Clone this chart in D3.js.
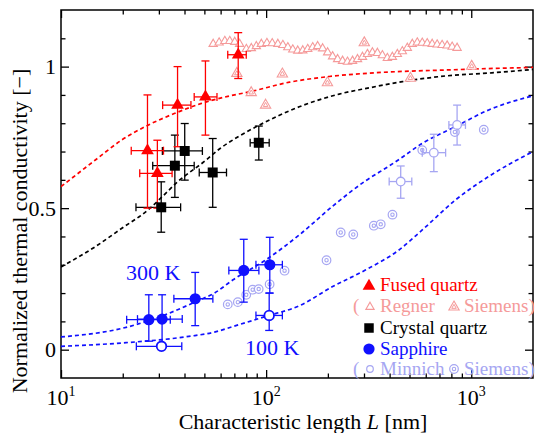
<!DOCTYPE html>
<html>
<head>
<meta charset="utf-8">
<script src="https://cdn.jsdelivr.net/npm/d3@7"></script>
<style>
  body { margin: 0; background: #fff; }
</style>
</head>
<body>
<svg id="chart" width="535" height="433" font-family="'Liberation Serif', 'DejaVu Serif', serif"></svg>
<script>
// data (L in nm, normalized conductivity)
const fusedL = [26.4, 29.5, 37.0, 50.6, 73.1];
const fusedV = [0.703, 0.623, 0.864, 0.893, 1.042];
const fusedVLo = [0.50, 0.50, 0.717, 0.758, 0.958];
const fusedVHi = [0.90, 0.74, 1.00, 1.02, 1.12];
const fusedLLo = [22.0, 24.2, 31.3, 44.6, 65.0];
const fusedLHi = [31.6, 34.8, 43.0, 57.6, 80.0];

const crystalL = [30.8, 35.9, 40.1, 54.9, 92.1];
const crystalV = [0.503, 0.650, 0.702, 0.626, 0.731];
const crystalVLo = [0.415, 0.538, 0.599, 0.503, 0.67];
const crystalVHi = [0.593, 0.758, 0.799, 0.746, 0.79];
const crystalLLo = [23.2, 28.0, 31.2, 47.2, 83.6];
const crystalLHi = [38.3, 44.6, 48.9, 64.1, 103.5];

const sapph300L = [26.8, 31.1, 45.1, 77.8, 104.2];
const sapph300V = [0.106, 0.108, 0.180, 0.280, 0.300];
const sapph300VLo = [0.03, 0.018, 0.085, 0.168, 0.20];
const sapph300VHi = [0.194, 0.194, 0.273, 0.390, 0.397];
const sapph300LLo = [20.9, 23.6, 35.5, 65.8, 89.2];
const sapph300LHi = [34.1, 39.0, 55.0, 92.2, 120];

const sapph100L = [30.9, 103.5];
const sapph100V = [0.012, 0.121];
const sapph100VLo = [0.005, 0.068];
const sapph100VHi = [0.02, 0.20];
const sapph100LLo = [23.3, 89.2];
const sapph100LHi = [38.8, 120];

const minnichL = [453, 657, 853];
const minnichV = [0.594, 0.696, 0.794];
const minnichVLo = [0.535, 0.629, 0.723];
const minnichVHi = [0.649, 0.761, 0.864];
const minnichLLo = [398, 577, 778];
const minnichLHi = [513, 750, 937];

const siemensSapphL = [65, 72.8, 80, 86, 92, 104, 123, 197, 231, 266, 335, 362, 413, 577, 832, 1151];
const siemensSapphV = [0.160, 0.168, 0.194, 0.212, 0.214, 0.231, 0.279, 0.316, 0.414, 0.407, 0.438, 0.443, 0.477, 0.705, 0.769, 0.777];

const regnerL = [55.2, 59.0, 62.9, 66.5, 70.3, 74.3, 80.1, 84.7, 89.6, 94.8, 100.9, 107.1, 114.1, 120.7,
  127.6, 134.9, 142.6, 150.9, 159.5, 168.7, 178.3, 188.6, 199.5, 210.9, 223.1, 235.8, 249.3, 263.8,
  279.0, 295.0, 311.9, 329.8, 348.8, 368.8, 390, 412.6, 436.3, 461.4, 487.8, 516, 545.7, 576.9,
  610, 645, 682, 721, 763, 807, 853];
const regnerV = [1.080, 1.085, 1.090, 1.090, 1.087, 1.080, 1.062, 1.065, 1.072, 1.080, 1.083, 1.082, 1.080, 1.076,
  1.068, 1.060, 1.056, 1.057, 1.062, 1.068, 1.072, 1.064, 1.050, 1.036, 1.026, 1.020, 1.017, 1.020,
  1.026, 1.034, 1.044, 1.050, 1.048, 1.040, 1.030, 1.034, 1.044, 1.054, 1.066, 1.080, 1.085, 1.084,
  1.082, 1.080, 1.078, 1.076, 1.074, 1.070, 1.066];

const siemensFusedL = [72, 84.6, 99.4, 120, 199, 301, 505, 1005];
const siemensFusedV = [0.976, 0.908, 0.864, 0.974, 0.943, 1.084, 0.959, 1.001];

// dashed model curves
const redCurveL = [10, 14.7, 19.8, 26.7, 35.9, 48.4, 65, 83.2, 130, 203, 318, 500, 750, 1200, 2000];
const redCurveV = [0.576, 0.670, 0.741, 0.794, 0.835, 0.870, 0.895, 0.911, 0.945, 0.965, 0.977, 0.984, 0.988, 0.993, 0.997];

const blackCurveL = [10, 14.7, 19.8, 26.7, 30.8, 37.3, 50, 59.4, 73, 93, 145, 227, 318, 462, 750, 1260, 2000];
const blackCurveV = [0.292, 0.364, 0.429, 0.495, 0.537, 0.595, 0.665, 0.71, 0.752, 0.794, 0.858, 0.903, 0.925, 0.947, 0.967, 0.978, 0.990];

const blue300CurveL = [10, 20, 27.7, 47.5, 56, 69, 100, 146, 211, 306, 400, 453, 577, 838, 1217, 2000];
const blue300CurveV = [0.045, 0.076, 0.106, 0.176, 0.20, 0.247, 0.318, 0.407, 0.507, 0.597, 0.65, 0.676, 0.729, 0.788, 0.847, 0.897];

const blue100CurveL = [10, 20, 42, 56, 69, 100, 146, 211, 306, 440, 577, 838, 1217, 2000];
const blue100CurveV = [0.012, 0.024, 0.047, 0.062, 0.082, 0.118, 0.156, 0.223, 0.282, 0.35, 0.423, 0.529, 0.612, 0.70];

// ticks
const xMajor = [10, 100, 1000];
const xMajorExp = ["1", "2", "3"];
const xMinor = [20, 30, 40, 50, 60, 70, 80, 90, 200, 300, 400, 500, 600, 700, 800, 900];
const yMajor = [0, 0.5, 1];
const yMajorLabels = ["0", "0.5", "1"];
const yMinor = [0.1, 0.2, 0.3, 0.4, 0.6, 0.7, 0.8, 0.9, 1.1];

const RED = "#ff0000";
const PINK = "#f59a9a";
const BLUE = "#1010ff";
const LAVENDER = "#a6a6f2";

const svg = d3.select("#chart");
const plotL = 61, plotR = 533, plotT = 10, plotB = 378;

const x = d3.scaleLog().domain([10, 2000]).range([plotL, plotR]);
const y = d3.scaleLinear().domain([-0.1, 1.2]).range([plotB, plotT]);

svg.append("defs").append("clipPath").attr("id", "plotclip")
  .append("rect").attr("x", plotL).attr("y", plotT).attr("width", plotR - plotL).attr("height", plotB - plotT);

// axes, ticks inside on all four sides
function tickAxis(axisFn, scale, values, size, tx, ty) {
  svg.append("g")
    .attr("transform", `translate(${tx},${ty})`)
    .call(axisFn(scale).tickValues(values).tickSize(size).tickFormat(""))
    .call((g) => g.select(".domain").remove())
    .call((g) => g.selectAll("line").attr("stroke", "#000").attr("stroke-width", 1.3));
}
tickAxis(d3.axisBottom, x, xMajor, -8, 0, plotB);
tickAxis(d3.axisBottom, x, xMinor, -4.5, 0, plotB);
tickAxis(d3.axisTop, x, xMajor, -8, 0, plotT);
tickAxis(d3.axisTop, x, xMinor, -4.5, 0, plotT);
tickAxis(d3.axisLeft, y, yMajor, -8, plotL, 0);
tickAxis(d3.axisLeft, y, yMinor, -4.5, plotL, 0);
tickAxis(d3.axisRight, y, yMajor, -8, plotR, 0);
tickAxis(d3.axisRight, y, yMinor, -4.5, plotR, 0);

svg.append("rect")
  .attr("x", plotL).attr("y", plotT).attr("width", plotR - plotL).attr("height", plotB - plotT)
  .attr("fill", "none").attr("stroke", "#000").attr("stroke-width", 1.5);

// tick labels
xMajor.forEach((v, i) => {
  const t = svg.append("text")
    .attr("x", x(v)).attr("y", 405)
    .attr("text-anchor", "middle").attr("font-size", 22);
  t.append("tspan").text("10");
  t.append("tspan").attr("dy", -9).attr("font-size", 14).text(xMajorExp[i]);
});
yMajor.forEach((v, i) => {
  svg.append("text")
    .attr("x", 56).attr("y", y(v) + 7.5)
    .attr("text-anchor", "end").attr("font-size", 22)
    .text(yMajorLabels[i]);
});

// axis titles
const xt = svg.append("text")
  .attr("x", 303).attr("y", 429)
  .attr("text-anchor", "middle").attr("font-size", 22);
xt.append("tspan").text("Characteristic length ");
xt.append("tspan").attr("font-style", "italic").text("L");
xt.append("tspan").text(" [nm]");

svg.append("text")
  .attr("transform", "translate(27,231) rotate(-90)")
  .attr("text-anchor", "middle").attr("font-size", 22)
  .text("Normalized thermal conductivity [\u2212]");

// dashed curves
const plot = svg.append("g").attr("clip-path", "url(#plotclip)");
const line = d3.line().x((d) => x(d[0])).y((d) => y(d[1])).curve(d3.curveMonotoneX);

function drawCurve(ls, vs, color) {
  plot.append("path")
    .datum(ls.map((l, i) => [l, vs[i]]))
    .attr("d", line)
    .attr("fill", "none")
    .attr("stroke", color)
    .attr("stroke-width", 1.7)
    .attr("stroke-dasharray", "4,3");
}
drawCurve(redCurveL, redCurveV, RED);
drawCurve(blackCurveL, blackCurveV, "#000");
drawCurve(blue300CurveL, blue300CurveV, BLUE);
drawCurve(blue100CurveL, blue100CurveV, BLUE);

// error bars
function drawErrors(ls, vs, lLo, lHi, vLo, vHi, color) {
  const g = plot.append("g").attr("stroke", color).attr("stroke-width", 1.3).attr("fill", "none");
  ls.forEach((l, i) => {
    const cx = x(l), cy = y(vs[i]);
    const y0 = y(vLo[i]), y1 = y(vHi[i]);
    const x0 = x(lLo[i]), x1 = x(lHi[i]);
    g.append("line").attr("x1", cx).attr("x2", cx).attr("y1", y0).attr("y2", y1);
    g.append("line").attr("x1", cx - 4).attr("x2", cx + 4).attr("y1", y0).attr("y2", y0);
    g.append("line").attr("x1", cx - 4).attr("x2", cx + 4).attr("y1", y1).attr("y2", y1);
    g.append("line").attr("x1", x0).attr("x2", x1).attr("y1", cy).attr("y2", cy);
    g.append("line").attr("x1", x0).attr("x2", x0).attr("y1", cy - 4).attr("y2", cy + 4);
    g.append("line").attr("x1", x1).attr("x2", x1).attr("y1", cy - 4).attr("y2", cy + 4);
  });
}

const tri = (area) => d3.symbol(d3.symbolTriangle, area)();
const sq = (area) => d3.symbol(d3.symbolSquare, area)();

// symbol helpers, used for plot and legend
function regnerMark(g, cx, cy) {
  g.append("path").attr("d", tri(30)).attr("transform", `translate(${cx},${cy})`)
    .attr("fill", "#fff").attr("stroke", PINK).attr("stroke-width", 1.1);
}
function siemensTri(g, cx, cy) {
  g.append("path").attr("d", tri(46)).attr("transform", `translate(${cx},${cy})`)
    .attr("fill", "#fff").attr("stroke", PINK).attr("stroke-width", 1.1);
  g.append("path").attr("d", tri(9)).attr("transform", `translate(${cx},${cy})`)
    .attr("fill", "none").attr("stroke", PINK).attr("stroke-width", 1);
}
function siemensCirc(g, cx, cy) {
  g.append("circle").attr("cx", cx).attr("cy", cy).attr("r", 4.3)
    .attr("fill", "#fff").attr("stroke", LAVENDER).attr("stroke-width", 1.2);
  g.append("circle").attr("cx", cx).attr("cy", cy).attr("r", 1.7)
    .attr("fill", "none").attr("stroke", LAVENDER).attr("stroke-width", 1.1);
}

// light reference data
const refs = plot.append("g");
regnerL.forEach((l, i) => regnerMark(refs, x(l), y(regnerV[i])));
siemensFusedL.forEach((l, i) => siemensTri(refs, x(l), y(siemensFusedV[i])));
siemensSapphL.forEach((l, i) => siemensCirc(refs, x(l), y(siemensSapphV[i])));

drawErrors(minnichL, minnichV, minnichLLo, minnichLHi, minnichVLo, minnichVHi, LAVENDER);
minnichL.forEach((l, i) => {
  plot.append("circle").attr("cx", x(l)).attr("cy", y(minnichV[i])).attr("r", 4.3)
    .attr("fill", "#fff").attr("stroke", LAVENDER).attr("stroke-width", 1.3);
});

// measured data
drawErrors(crystalL, crystalV, crystalLLo, crystalLHi, crystalVLo, crystalVHi, "#000");
drawErrors(fusedL, fusedV, fusedLLo, fusedLHi, fusedVLo, fusedVHi, RED);
drawErrors(sapph300L, sapph300V, sapph300LLo, sapph300LHi, sapph300VLo, sapph300VHi, BLUE);
drawErrors(sapph100L, sapph100V, sapph100LLo, sapph100LHi, sapph100VLo, sapph100VHi, BLUE);

crystalL.forEach((l, i) => {
  plot.append("path").attr("d", sq(100)).attr("transform", `translate(${x(l)},${y(crystalV[i])})`)
    .attr("fill", "#000");
});
fusedL.forEach((l, i) => {
  plot.append("path").attr("d", tri(70)).attr("transform", `translate(${x(l)},${y(fusedV[i])})`)
    .attr("fill", RED);
});
sapph300L.forEach((l, i) => {
  plot.append("circle").attr("cx", x(l)).attr("cy", y(sapph300V[i])).attr("r", 5.6).attr("fill", BLUE);
});
sapph100L.forEach((l, i) => {
  plot.append("circle").attr("cx", x(l)).attr("cy", y(sapph100V[i])).attr("r", 4.8)
    .attr("fill", "#fff").attr("stroke", BLUE).attr("stroke-width", 1.8);
});

// temperature labels
svg.append("text").attr("x", 126).attr("y", 280).attr("font-size", 22).attr("fill", BLUE).text("300 K");
svg.append("text").attr("x", 245).attr("y", 355).attr("font-size", 22).attr("fill", BLUE).text("100 K");

// legend
const lg = svg.append("g").attr("font-size", 19);
lg.append("path").attr("d", tri(70)).attr("transform", "translate(369,286)").attr("fill", RED);
lg.append("text").attr("x", 380).attr("y", 291).attr("fill", RED).text("Fused quartz");

lg.append("text").attr("x", 353).attr("y", 312).attr("fill", PINK).text("(");
regnerMark(lg, 370, 307);
lg.append("text").attr("x", 380).attr("y", 312).attr("fill", PINK).text("Regner");
siemensTri(lg, 454, 307);
lg.append("text").attr("x", 464).attr("y", 312).attr("fill", PINK).text("Siemens)");

lg.append("path").attr("d", sq(90)).attr("transform", "translate(369,328)").attr("fill", "#000");
lg.append("text").attr("x", 380).attr("y", 334).attr("fill", "#000").text("Crystal quartz");

lg.append("circle").attr("cx", 369).attr("cy", 349).attr("r", 5.6).attr("fill", BLUE);
lg.append("text").attr("x", 380).attr("y", 355).attr("fill", BLUE).text("Sapphire");

lg.append("text").attr("x", 353).attr("y", 375).attr("fill", LAVENDER).text("(");
lg.append("circle").attr("cx", 370).attr("cy", 369).attr("r", 3.3)
  .attr("fill", "#fff").attr("stroke", LAVENDER).attr("stroke-width", 1.2);
lg.append("text").attr("x", 380).attr("y", 375).attr("fill", LAVENDER).text("Minnich");
siemensCirc(lg, 454, 369);
lg.append("text").attr("x", 464).attr("y", 375).attr("fill", LAVENDER).text("Siemens)");
</script>
</body>
</html>
